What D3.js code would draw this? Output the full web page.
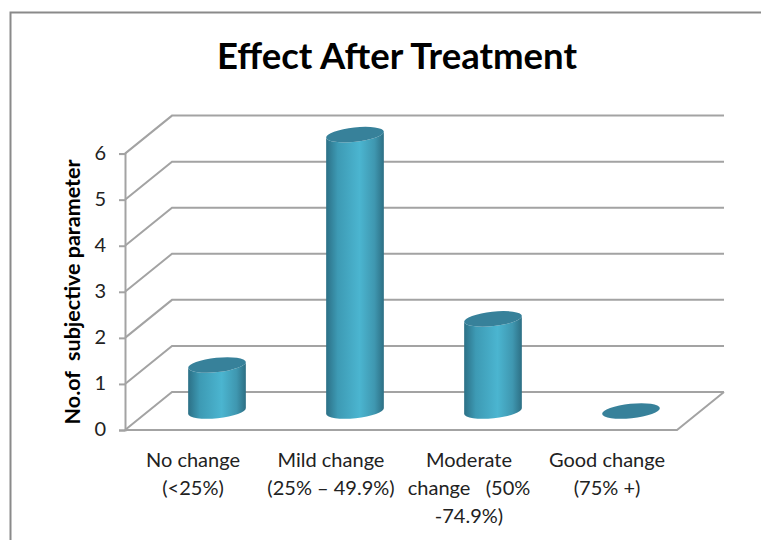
<!DOCTYPE html>
<html>
<head>
<meta charset="utf-8">
<script src="https://cdn.jsdelivr.net/npm/d3@7"></script>
<style>
  html, body { margin: 0; padding: 0; background: #fff; }
  svg { display: block; }
  text { font-family: Lato, "Open Sans", sans-serif; }
</style>
</head>
<body>
<div id="vis"></div>
<script>
const categories = ["No change", "Mild change", "Moderate", "Good change"];
const categoryLines = [
    ["No change", "(<25%)"],
    ["Mild change", "(25% – 49.9%)"],
    ["Moderate", "change   (50%", "-74.9%)"],
    ["Good change", "(75% +)"]
];
const values = [1, 6, 2, 0];
const yTicks = [0, 1, 2, 3, 4, 5, 6];

const width = 761, height = 540;
const depthX = 47, depthY = -38;   // offset of the back wall
const gridColor = "#a3a3a3";

const svg = d3.select("#vis").append("svg")
    .attr("width", width)
    .attr("height", height);

const x = d3.scaleBand().domain(categories).range([125, 677]);
const y = d3.scaleLinear().domain([0, 6]).range([430, 153.6]);

// gradient for the cylinder sides
const grad = svg.append("defs").append("linearGradient")
    .attr("id", "side")
    .attr("x1", 0).attr("x2", 1).attr("y1", 0).attr("y2", 0);
grad.append("stop").attr("offset", "0%").attr("stop-color", "#2c7086");
grad.append("stop").attr("offset", "20%").attr("stop-color", "#3d9ab4");
grad.append("stop").attr("offset", "58%").attr("stop-color", "#4bb5d0");
grad.append("stop").attr("offset", "84%").attr("stop-color", "#3f97b0");
grad.append("stop").attr("offset", "100%").attr("stop-color", "#2d6f84");

// outer frame, open at the right and bottom
svg.append("path")
    .attr("d", `M${10.5},${height} V12.5 H${width}`)
    .attr("fill", "none")
    .attr("stroke", "#8a8a8a")
    .attr("stroke-width", 2);

// title
svg.append("text")
    .attr("x", 397)
    .attr("y", 69)
    .attr("text-anchor", "middle")
    .style("font-size", "36.5px")
    .style("font-weight", "bold")
    .attr("fill", "#000")
    .text("Effect After Treatment");

// back wall gridlines and side wall diagonals
svg.append("g").selectAll("path")
    .data(yTicks)
    .enter()
    .append("path")
    .attr("fill", "none")
    .attr("stroke", gridColor)
    .attr("stroke-width", 2)
    .attr("d", d => `M${x.range()[0]},${y(d)} l${depthX},${depthY} H${x.range()[1] + depthX}`);

// floor front and right edges
svg.append("path")
    .attr("fill", "none")
    .attr("stroke", gridColor)
    .attr("stroke-width", 2)
    .attr("d", `M${x.range()[0]},${y(0)} H${x.range()[1]} l${depthX},${depthY}`);

// y axis
const yAxis = d3.axisLeft(y).tickValues(yTicks).tickSize(6).tickPadding(13).tickFormat(d3.format("d"));
const axisG = svg.append("g").attr("transform", `translate(${x.range()[0]},0)`).call(yAxis);
axisG.selectAll("path, line").attr("stroke", gridColor).attr("stroke-width", 2);
axisG.selectAll("text")
    .attr("fill", "#222")
    .attr("dy", "0.28em")
    .style("font-size", "20px")
    .style("font-family", "Lato, sans-serif");

// y axis title
svg.append("text")
    .attr("transform", "translate(80,292) rotate(-90)")
    .attr("text-anchor", "middle")
    .style("font-size", "21.5px")
    .style("font-weight", "bold")
    .style("white-space", "pre")
    .attr("fill", "#000")
    .text("No.of  subjective parameter");

// cylinders, drawn on the middle of the floor
const rx = 29, ry = 7.2, tilt = -6;
const rad = tilt * Math.PI / 180;
const tipX = rx * Math.cos(rad), tipY = rx * Math.sin(rad);

const bars = svg.append("g").selectAll("g")
    .data(categories.map((c, i) => ({ c, v: values[i] })))
    .enter()
    .append("g")
    .attr("transform", d => `translate(${x(d.c) + x.bandwidth() / 2 + depthX / 2 - 0.5},${depthY / 2})`);

bars.filter(d => d.v > 0).append("path")
    .attr("fill", "url(#side)")
    .attr("d", d => {
        const top = y(d.v), bot = y(0);
        return `M${-tipX},${top - tipY} L${-tipX},${bot - tipY}`
            + ` A${rx},${ry} ${tilt} 0 0 ${tipX},${bot + tipY}`
            + ` L${tipX},${top + tipY}`
            + ` A${rx},${ry} ${tilt} 0 1 ${-tipX},${top - tipY} Z`;
    });

bars.append("ellipse")
    .attr("rx", rx)
    .attr("ry", ry)
    .attr("transform", d => `translate(0,${y(d.v)}) rotate(${tilt})`)
    .attr("fill", "#37819a");

// category labels, wrapped as in the original
const labels = svg.append("g").selectAll("text")
    .data(categories.map((c, i) => ({ c, lines: categoryLines[i] })))
    .enter()
    .append("text")
    .attr("text-anchor", "middle")
    .attr("fill", "#222")
    .style("font-size", "20px")
    .style("white-space", "pre")
    .attr("transform", d => `translate(${x(d.c) + x.bandwidth() / 2 - 1},467)`);

labels.selectAll("tspan")
    .data(d => d.lines)
    .enter()
    .append("tspan")
    .attr("x", 0)
    .attr("dy", (d, i) => i === 0 ? 0 : 28)
    .text(d => d);
</script>
</body>
</html>
